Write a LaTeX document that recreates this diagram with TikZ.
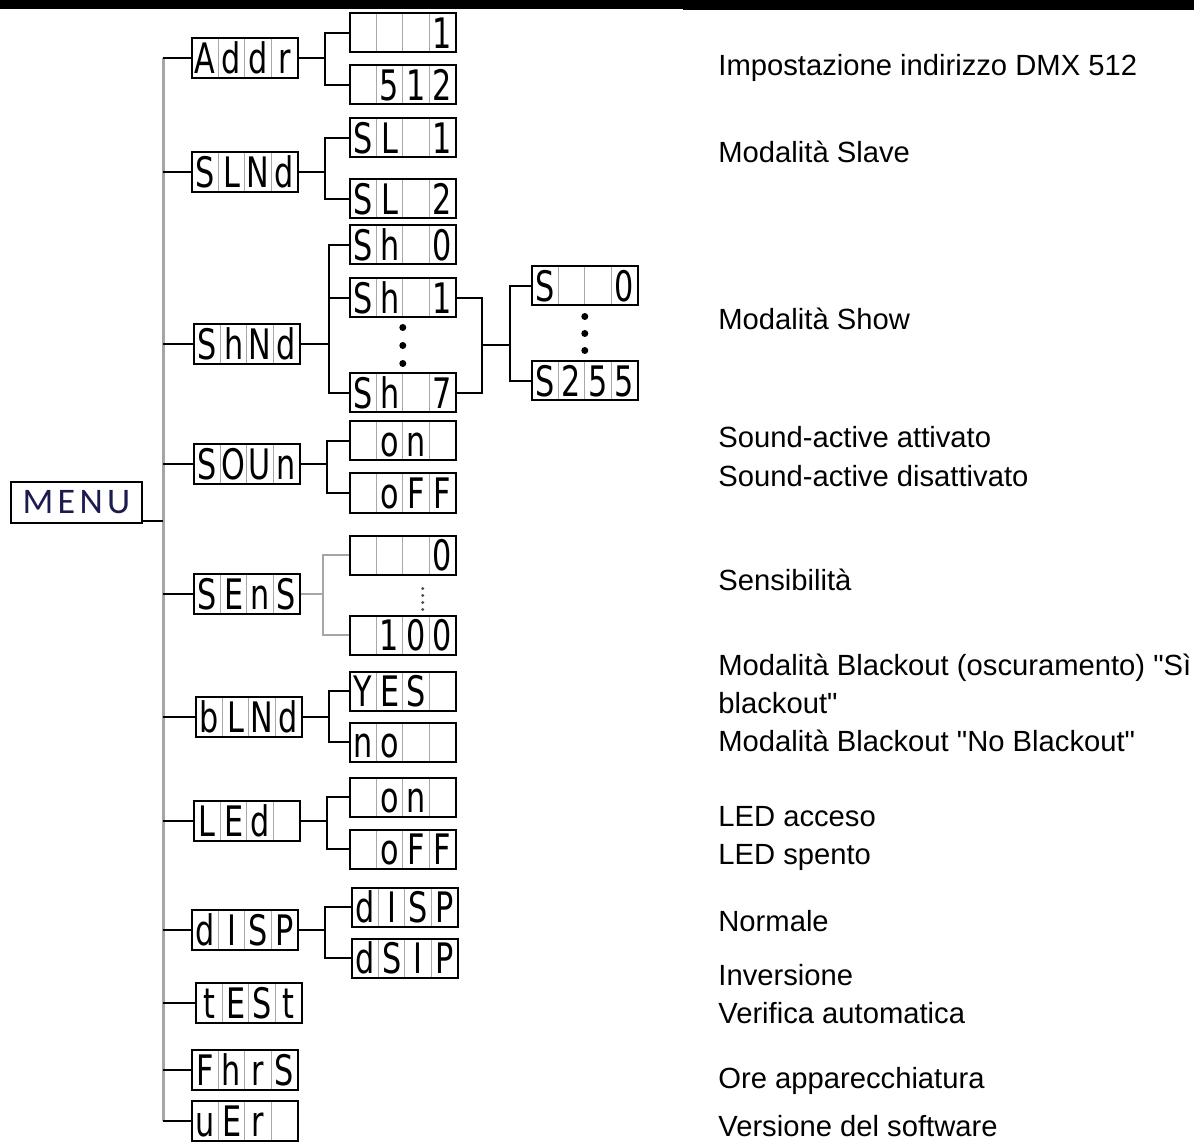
\documentclass[tikz,border=0pt]{standalone}
\usepackage{fontspec}
\setmainfont{Liberation Sans}
\newfontfamily\segfont[FakeStretch=0.72]{DejaVu Sans}
\newfontfamily\menufont[LetterSpace=12]{Carlito}
\usetikzlibrary{positioning,calc}
\definecolor{cellgray}{HTML}{A8A8A8}
\definecolor{trunkgray}{HTML}{A6A6A6}
\definecolor{menuink}{HTML}{1B1B4D}
\newlength\cw \setlength\cw{13.2pt}
\newcommand\seg[4]{\segfont\fontsize{21pt}{21pt}\selectfont
  \makebox[\cw]{#1}\makebox[\cw]{#2}\makebox[\cw]{#3}\makebox[\cw]{#4}}

\begin{document}
\begin{tikzpicture}[x=0.5pt,y=-0.5pt,
  lcd/.style={draw,line width=1pt,inner sep=0pt,anchor=west,text height=15.3pt,text depth=0pt,minimum height=19.5pt,
    path picture={\foreach \k in {1,2,3}
      \draw[cellgray,line width=0.6pt] ($(path picture bounding box.north west)!\k/4!(path picture bounding box.north east)$)
        -- ($(path picture bounding box.south west)!\k/4!(path picture bounding box.south east)$);}},
  mainbox/.style={lcd,minimum height=20pt},
  br/.style={line width=1pt},
  grbr/.style={line width=1pt,draw=trunkgray},
  trunk/.style={line width=1.5pt,draw=trunkgray},
  desc/.style={anchor=base west,inner sep=0pt,font=\fontsize{14.6pt}{14.6pt}\selectfont}]
\useasboundingbox (0,0) rectangle (1194,1144);
% header bars
\fill (0,0) rectangle (683,9);
\fill (683,0) rectangle (1194,10);

\node[draw,line width=0.8pt,minimum width=65.5pt,minimum height=20.5pt,inner sep=0pt,
  font=\menufont\fontsize{18pt}{18pt}\selectfont,text=menuink] (menu) at (76.5,502.5) {MENU};

% first level
\node[mainbox] (addr) at (191,58) {\seg{A}{d}{d}{r}};
\node[mainbox] (slnd) at (191,172) {\seg{S}{L}{N}{d}};
\node[mainbox] (shnd) at (193,344) {\seg{S}{h}{N}{d}};
\node[mainbox] (soun) at (193,464) {\seg{S}{O}{U}{n}};
\node[mainbox] (sens) at (193,594) {\seg{S}{E}{n}{S}};
\node[mainbox] (blnd) at (195,717) {\seg{b}{L}{N}{d}};
\node[mainbox] (led) at (193,821) {\seg{L}{E}{d}{}};
\node[mainbox] (disp) at (191,930) {\seg{d}{I}{S}{P}};
\node[mainbox] (test) at (195,1003) {\seg{t}{E}{S}{t}};
\node[mainbox] (fhrs) at (191,1070) {\seg{F}{h}{r}{S}};
\node[mainbox] (ver) at (191,1121) {\seg{u}{E}{r}{}};

% second level
\node[lcd] (a1) at (349,33) {\seg{}{}{}{1}};
\node[lcd] (a2) at (349,85) {\seg{}{5}{1}{2}};
\node[lcd] (s1) at (349,138) {\seg{S}{L}{}{1}};
\node[lcd] (s2) at (349,199) {\seg{S}{L}{}{2}};
\node[lcd] (h0) at (349,245) {\seg{S}{h}{}{0}};
\node[lcd] (h1) at (349,298) {\seg{S}{h}{}{1}};
\node[lcd] (h7) at (349,393) {\seg{S}{h}{}{7}};
\node[lcd] (o1) at (349,441) {\seg{}{o}{n}{}};
\node[lcd] (o2) at (349,493) {\seg{}{o}{F}{F}};
\node[lcd] (e1) at (349,555) {\seg{}{}{}{0}};
\node[lcd] (e2) at (349,635) {\seg{}{1}{0}{0}};
\node[lcd] (b1) at (349,691) {\seg{Y}{E}{S}{}};
\node[lcd] (b2) at (349,742) {\seg{n}{o}{}{}};
\node[lcd] (l1) at (349,797) {\seg{}{o}{n}{}};
\node[lcd] (l2) at (349,849) {\seg{}{o}{F}{F}};
\node[lcd] (d1) at (351,907) {\seg{d}{I}{S}{P}};
\node[lcd] (d2) at (351,958) {\seg{d}{S}{I}{P}};

% third level
\node[lcd] (v1) at (531,286) {\seg{S}{}{}{0}};
\node[lcd] (v2) at (531,381) {\seg{S}{2}{5}{5}};

% trunk
\draw[trunk] (addr.west) ++(-28,0) coordinate (tt) -- (tt |- ver.west);
\foreach \m in {addr,slnd,shnd,soun,sens,blnd,led,disp,test,fhrs,ver}
  \draw[br] (\m.west -| tt) -- (\m.west);
\draw[br] ($(menu.south east)+(0,-3)$) -- ($(menu.south east -| tt)+(0,-3)$);

% forks
\foreach \m/\p/\q in {addr/a1/a2,slnd/s1/s2,soun/o1/o2,blnd/b1/b2,led/l1/l2,disp/d1/d2}{
  \draw[br] (\m.east) -- ++(26,0) coordinate (f);
  \draw[br] (\p.west) -| (f) |- (\q.west);
}
\draw[grbr] (sens.east) -- ++(22,0) coordinate (fs);
\draw[grbr] (e1.west) -| (fs) |- (e2.west);
\draw[br] (shnd.east) -- ++(28,0) coordinate (fh);
\draw[br] (h0.west) -| (fh) |- (h7.west);
\draw[br] (h1.west) -- (h1.west -| fh);
\draw[br] (h1.east) -- ++(25,0) coordinate (gx) |- (h7.east);
\coordinate (gm) at ($(gx)!0.5!(gx |- h7.east)$);
\draw[br] (gm) -- ++(28,0) coordinate (gv);
\draw[br] (v1.west) -| (gv) |- (v2.west);

% dots
\foreach \d in {-18,0,18}
  \fill ($(h1.south)!0.5!(h7.north)+(0,\d)$) circle (3.5);
\foreach \d in {-17,0,17}
  \fill ($(v1.south)!0.5!(v2.north)+(0,\d)$) circle (3.5);
\foreach \d in {-6.5,0.5,7.5,14.5}
  \fill[black!70] ($(e1.south)!0.5!(e2.north)+(20,\d)$) circle (1.6);

% descriptions
\foreach \y/\t in {76/{Impostazione indirizzo DMX 512},163/{Modalità Slave},330/{Modalità Show},
  448/{Sound-active attivato},487/{Sound-active disattivato},590/{Sensibilità},
  675/{Modalità Blackout (oscuramento) \textquotedbl Sì},713/{blackout\textquotedbl},
  751/{Modalità Blackout \textquotedbl No Blackout\textquotedbl},
  826/{LED acceso},864/{LED spento},931/{Normale},985/{Inversione},1023/{Verifica automatica},
  1088/{Ore apparecchiatura},1136/{Versione del software}}
  \node[desc] at (718,\y) {\t};
\end{tikzpicture}
\end{document}
